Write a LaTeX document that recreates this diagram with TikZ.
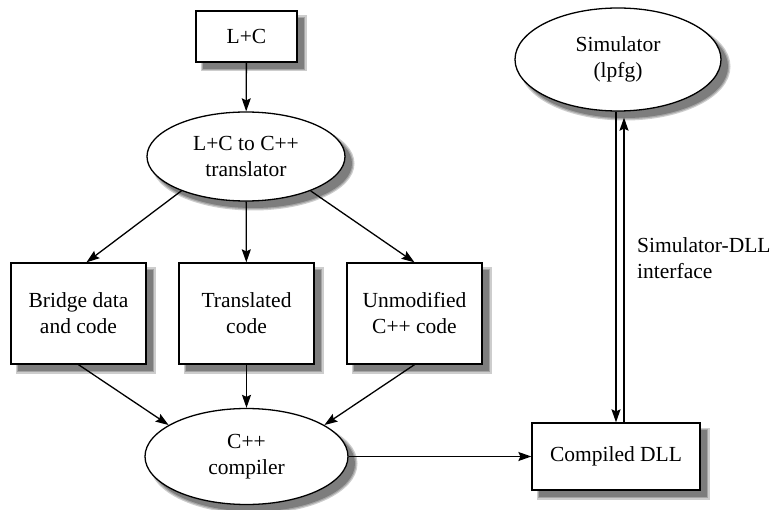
\documentclass[tikz,border=0pt]{standalone}
\usepackage{fontspec}
\setmainfont{Liberation Serif}
\usetikzlibrary{arrows.meta,shapes.geometric,calc}
\definecolor{shadowdark}{RGB}{125,125,125}
\definecolor{shadowmidc}{RGB}{165,165,165}
\definecolor{shadowlight}{RGB}{205,205,205}
% a soft shadow: light wide rim, mid rim, dark core
\newcommand\castshadow[1]{%
  \path[shadowouter] #1;
  \path[shadowmid] #1;
  \path[shadowinner] #1;}

\begin{document}
\begin{tikzpicture}[x=1pt,y=-1pt,
  txt/.style={font=\rmfamily\fontsize{21.5}{26}\selectfont, align=center},
  boxnode/.style={txt, rectangle, draw, fill=white, line width=1.3pt,
      inner sep=0pt},
  ovalnode/.style={txt, ellipse, draw, fill=white, line width=1.3pt,
      inner sep=0pt},
  arr/.style={line width=1.3pt, -{Stealth[length=13pt, width=9pt, inset=2pt]}},
  shadowouter/.style={fill=shadowlight, draw=shadowlight, line width=5pt},
  shadowmid/.style={draw=shadowmidc, line width=2.5pt},
  shadowinner/.style={fill=shadowdark}]

  \useasboundingbox (0,0) rectangle (776,510);

  % shadows, drawn first so the shapes cover them
  \castshadow{(203,18) rectangle (304,69)}
  \castshadow{(253,163.5) ellipse [x radius=99, y radius=44.5]}
  \castshadow{(18,270) rectangle (153,371)}
  \castshadow{(186,270) rectangle (321,371)}
  \castshadow{(354,270) rectangle (489,371)}
  \castshadow{(253.5,463.5) ellipse [x radius=101.5, y radius=48]}
  \castshadow{(539,430) rectangle (707,497)}
  \castshadow{(625,66.5) ellipse [x radius=103, y radius=51.5]}

  % source and translator
  \node[boxnode, minimum width=101pt, minimum height=51pt] (lc) at (246.5,36.5) {L+C};
  \node[ovalnode, minimum width=198pt, minimum height=89pt] (trans) at (246,156.5)
    {L+C to C++\\translator};

  % translator outputs
  \node[boxnode, minimum width=135pt, minimum height=101pt] (bridge) at (78.5,313.5)
    {Bridge data\\and code};
  \node[boxnode, minimum width=135pt, minimum height=101pt] (transcode) at (246.5,313.5)
    {Translated\\code};
  \node[boxnode, minimum width=135pt, minimum height=101pt] (unmod) at (414.5,313.5)
    {Unmodified\\C++ code};

  % compilation
  \node[ovalnode, minimum width=203pt, minimum height=96pt] (comp) at (246.5,456.5)
    {C++\\compiler};
  \node[boxnode, minimum width=168pt, minimum height=67pt] (dll) at (616,456.5)
    {Compiled DLL};

  % simulator
  \node[ovalnode, minimum width=206pt, minimum height=103pt] (sim) at (618,59.5)
    {Simulator\\(lpfg)};
  \node[txt, align=left, anchor=west, inner sep=0pt] (iface) at (637,258)
    {Simulator-DLL\\interface};

  % connectors
  \draw[arr] (lc) -- (trans);
  \draw[arr] (trans.208) -- ($(bridge.north)+(8,0)$);
  \draw[arr] (trans) -- (transcode);
  \draw[arr] (trans.332) -- (unmod.north);
  \draw[arr] (bridge.south) -- (comp.158);
  \draw[arr] (transcode) -- (comp);
  \draw[arr] (unmod.south) -- (comp.22);
  \draw[arr] (comp.east) -- (dll.west);
  \draw[arr] ($(sim.south)+(-2,0)$) -- (dll.north);
  \draw[arr] ($(dll.north)+(8,0)$) -- ($(sim.south)+(6,6)$);
\end{tikzpicture}
\end{document}
